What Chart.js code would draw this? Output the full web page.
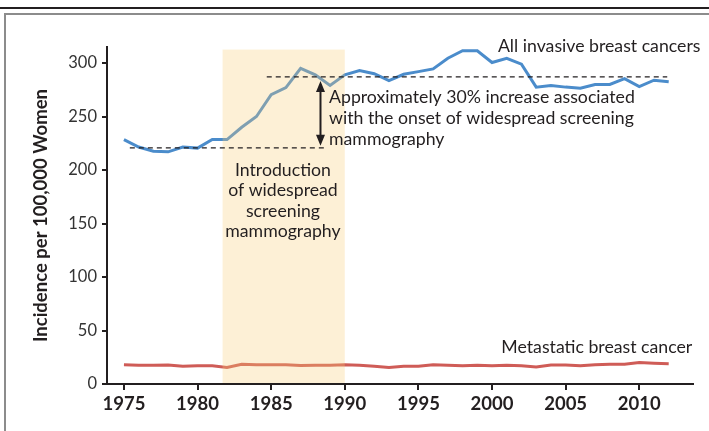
<!DOCTYPE html>
<html>
<head>
<meta charset="utf-8">
<script src="https://cdn.jsdelivr.net/npm/chart.js@4.4.1/dist/chart.umd.min.js"></script>
<style>
html, body { margin: 0; padding: 0; background: #fff; }
#wrap { position: relative; width: 709px; height: 431px; overflow: hidden; }
.rule { position: absolute; left: 0; top: 7px; width: 709px; height: 2px; background: #231f20; }
.frame { position: absolute; left: 4px; top: 13px; width: 740px; height: 460px;
         border-top: 2px solid #8c8c8c; border-left: 2px solid #8c8c8c; }
canvas { position: absolute; left: 0; top: 0; }
</style>
</head>
<body>
<div id="wrap">
  <div class="rule"></div>
  <div class="frame"></div>
  <canvas id="chart" width="709" height="431"></canvas>
</div>
<script>
const years = [1975, 1976, 1977, 1978, 1979, 1980, 1981, 1982, 1983, 1984,
               1985, 1986, 1987, 1988, 1989, 1990, 1991, 1992, 1993, 1994,
               1995, 1996, 1997, 1998, 1999, 2000, 2001, 2002, 2003, 2004,
               2005, 2006, 2007, 2008, 2009, 2010, 2011, 2012];

const invasive = [228.5, 221.5, 217.5, 217, 221.5, 220.5, 228.5, 228.5, 240, 250,
                  270.5, 277, 295, 289, 279, 289, 293, 290, 283.5, 289.5,
                  292, 294.5, 304.5, 311.5, 311.5, 300.5, 304.5, 299, 277.5, 279,
                  277.5, 276.5, 280, 280, 285.5, 278, 284, 282.5];

const metastatic = [18, 17.5, 17.5, 17.8, 16.5, 17, 17, 15.5, 18.5, 18,
                    18, 18, 17.2, 17.5, 17.5, 18, 17.5, 16.5, 15.5, 16.5,
                    16.5, 18, 17.5, 17, 17.5, 17, 17.5, 17, 15.8, 17.8,
                    17.8, 17, 18, 18.5, 18.5, 20.2, 19.5, 19];

const xTicks = [1975, 1980, 1985, 1990, 1995, 2000, 2005, 2010];
const yTicks = [0, 50, 100, 150, 200, 250, 300];

// screening band and the 30% reference levels
const bandStart = 1981.7, bandEnd = 1990, bandTop = 312.6;
const lowLevel = 220.8, highLevel = 287;

const ink = '#231f20';
const family = 'Lato, "Open Sans", sans-serif';

function points(vals) {
  return years.map((yr, i) => ({ x: yr, y: vals[i] }));
}

const notes = {
  id: 'notes',
  afterDatasetsDraw(chart) {
    const { ctx, scales: { x, y } } = chart;
    const px = v => x.getPixelForValue(v);
    const py = v => y.getPixelForValue(v);
    ctx.save();

    // band is laid over the lines so they show through tinted
    ctx.fillStyle = 'rgba(250,205,120,0.3)';
    ctx.fillRect(px(bandStart), py(bandTop), px(bandEnd) - px(bandStart), py(0) - 1 - py(bandTop));

    // dashed levels
    ctx.strokeStyle = ink;
    ctx.lineWidth = 1.3;
    ctx.setLineDash([5, 4]);
    ctx.beginPath();
    ctx.moveTo(px(1975.4), py(lowLevel));
    ctx.lineTo(px(1988.7), py(lowLevel));
    ctx.moveTo(px(1984.7), py(highLevel));
    ctx.lineTo(px(2011.9), py(highLevel));
    ctx.stroke();
    ctx.setLineDash([]);

    // double arrow
    const ax = px(1988.35), top = py(283.3), bot = py(222.6);
    ctx.lineWidth = 2;
    ctx.beginPath();
    ctx.moveTo(ax, top + 8);
    ctx.lineTo(ax, bot - 8);
    ctx.stroke();
    ctx.fillStyle = ink;
    ctx.beginPath();
    ctx.moveTo(ax, top);
    ctx.lineTo(ax - 4.5, top + 11);
    ctx.lineTo(ax + 4.5, top + 11);
    ctx.closePath();
    ctx.moveTo(ax, bot);
    ctx.lineTo(ax - 4.5, bot - 11);
    ctx.lineTo(ax + 4.5, bot - 11);
    ctx.closePath();
    ctx.fill();

    // labels
    ctx.fillStyle = ink;
    ctx.font = '17.7px ' + family;
    ctx.textBaseline = 'alphabetic';
    ctx.textAlign = 'left';
    ctx.fillText('All invasive breast cancers', px(2000.4), py(310));
    ctx.fillText('Approximately 30% increase associated', px(1988.93), py(263));
    ctx.fillText('with the onset of widespread screening', px(1988.93), py(243.3));
    ctx.fillText('mammography', px(1988.93), py(223.6));

    ctx.textAlign = 'center';
    const cx = px(1985.8);
    ctx.fillText('Introduction', cx, py(194.5));
    ctx.fillText('of widespread', cx, py(175.3));
    ctx.fillText('screening', cx, py(156.1));
    ctx.fillText('mammography', cx, py(137.3));

    ctx.textAlign = 'right';
    ctx.fillText('Metastatic breast cancer', px(2013.6), py(28.6));
    ctx.restore();
  }
};

new Chart(document.getElementById('chart'), {
  type: 'line',
  data: {
    datasets: [
      {
        label: 'All invasive breast cancers',
        data: points(invasive),
        borderColor: '#4b8ccb',
        borderWidth: 3,
        pointRadius: 0,
        tension: 0,
        fill: false
      },
      {
        label: 'Metastatic breast cancer',
        data: points(metastatic),
        borderColor: '#cf5c57',
        borderWidth: 3,
        pointRadius: 0,
        tension: 0,
        fill: false
      }
    ]
  },
  options: {
    responsive: false,
    animation: false,
    devicePixelRatio: 1,
    layout: { padding: { top: 47, right: 16, left: 0, bottom: 0 } },
    plugins: { legend: { display: false }, tooltip: { enabled: false } },
    scales: {
      x: {
        type: 'linear',
        min: 1973.85,
        max: 2013.65,
        afterBuildTicks: s => { s.ticks = xTicks.map(v => ({ value: v })); },
        afterFit: s => { s.height = 47; },
        grid: { drawOnChartArea: false, drawTicks: true, tickLength: 6, color: ink, lineWidth: 2 },
        border: { display: true, color: ink, width: 2 },
        ticks: {
          padding: 3,
          color: ink,
          font: { family: family, size: 18.5, weight: 'bold' },
          callback: v => String(v)
        }
      },
      y: {
        min: 0,
        max: 315,
        afterBuildTicks: s => { s.ticks = yTicks.map(v => ({ value: v })); },
        afterFit: s => { s.width = 107; },
        grid: { drawOnChartArea: false, drawTicks: true, tickLength: 5, color: ink, lineWidth: 2 },
        border: { display: true, color: ink, width: 2 },
        ticks: {
          padding: 5,
          color: '#333',
          font: { family: family, size: 16.5 }
        },
        title: {
          display: true,
          text: 'Incidence per 100,000 Women',
          color: ink,
          font: { family: family, size: 18.5, weight: 'bold' },
          padding: { top: 30, bottom: 0 }
        }
      }
    }
  },
  plugins: [notes]
});
</script>
</body>
</html>
